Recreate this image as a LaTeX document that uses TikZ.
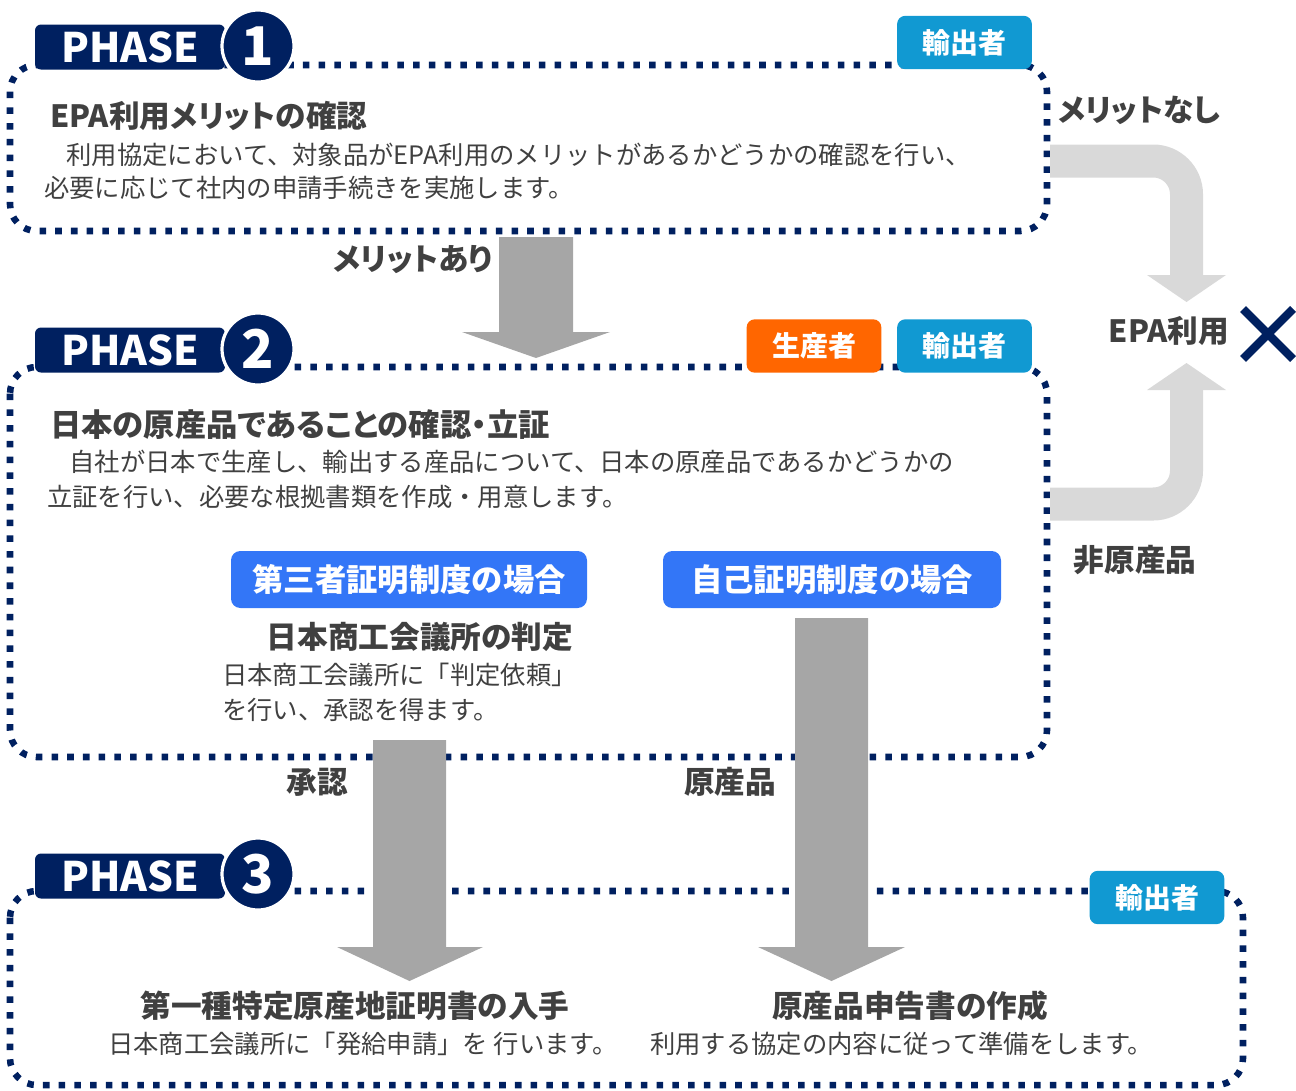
\documentclass[tikz,border=0pt]{standalone}
\usepackage{fontspec}
\setmainfont{Noto Sans CJK JP}
\newfontfamily\pfont{Noto Sans CJK JP}[RawFeature=+palt]
\definecolor{navy}{HTML}{002060}
\definecolor{tagblue}{HTML}{1199D2}
\definecolor{tagorange}{HTML}{FF6600}
\definecolor{btnblue}{HTML}{3376F7}
\definecolor{darkgray}{HTML}{A6A6A6}
\definecolor{lightgray}{HTML}{D9D9D9}
\definecolor{txt}{HTML}{404040}
\tikzset{
  dotbox/.style={draw=navy, line width=4.9pt, dash pattern=on 4.9pt off 6.9pt, rounded corners=20pt},
  phaselbl/.style={fill=navy, rounded corners=4.5pt, text=white, inner sep=0pt,
    minimum width=142.5pt, minimum height=33.75pt, font=\bfseries\fontsize{30.5}{30.5}\selectfont},
  phnum/.style={circle, fill=navy, draw=white, line width=2.4pt, inner sep=0pt,
    minimum size=54pt, text=white, font=\bfseries\fontsize{40}{40}\selectfont},
  tag/.style={rounded corners=6pt, text=white, inner sep=0pt, minimum width=101pt,
    minimum height=40pt, font=\pfont\bfseries\fontsize{21}{21}\selectfont},
  btn/.style={fill=btnblue, rounded corners=7pt, text=white, inner sep=0pt,
    minimum height=42.75pt, font=\bfseries\fontsize{23.5}{23.5}\selectfont},
  ttl/.style={text=txt, inner sep=0pt, font=\pfont\bfseries\fontsize{23}{23}\selectfont},
  body/.style={text=txt, inner sep=0pt, anchor=west, font=\fontsize{19}{19}\selectfont},
  lbl/.style={text=txt, inner sep=0pt, font=\pfont\bfseries\fontsize{23}{23}\selectfont},
  darkarrow/.style={fill=darkgray},
  lightband/.style={draw=lightgray, line width=24.75pt, rounded corners=25pt},
  lighthead/.style={fill=lightgray},
  xmark/.style={draw=navy, line width=6.2pt}
}
\begin{document}
\begin{tikzpicture}[x=0.75pt,y=-0.75pt]
\useasboundingbox (0,0) rectangle (1296,1090);

% ---------- dotted phase boxes ----------
\draw[dotbox] (10,65) rectangle (1047,231);
\draw[dotbox] (10,367) rectangle (1047,757);
\draw[dotbox] (10,891) rectangle (1243,1085);

% ---------- light gray side arrows ----------
\coordinate (b1s) at (1050,161);
\coordinate (b1c) at (1186.5,161);
\coordinate (b1e) at (1186.5,277);
\draw[lightband] (b1s) -- (b1c) -- (b1e);
\fill[lighthead] (1147,275) -- (1226,275) -- (1186.5,302) -- cycle;

\coordinate (b2s) at (1050,504);
\coordinate (b2c) at (1186.5,504);
\coordinate (b2e) at (1186.5,388);
\draw[lightband] (b2s) -- (b2c) -- (b2e);
\fill[lighthead] (1147,390) -- (1226,390) -- (1186.5,363) -- cycle;

% ---------- dark gray down arrows ----------
\fill[darkarrow] (499,237) -- (573,237) -- (573,332) -- (610,332) -- (536,358) -- (462,332) -- (499,332) -- cycle;
\fill[darkarrow] (373,740) -- (446,740) -- (446,947) -- (483,947) -- (409.5,981) -- (337,947) -- (373,947) -- cycle;
\fill[darkarrow] (795,618) -- (868,618) -- (868,947) -- (905,947) -- (831.5,981) -- (758,947) -- (795,947) -- cycle;

% ---------- phase headers ----------
\node[phaselbl] (p1lbl) at (130,47) {PHASE};
\node[phnum] (p1num) at (258,46) {1};
\node[tag, fill=tagblue] (p1tag) at (964.5,42.5) {輸出者};

\node[phaselbl] (p2lbl) at (130,350) {PHASE};
\node[phnum] (p2num) at (258,349) {2};
\node[tag, fill=tagorange] (p2tagA) at (814,346) {生産者};
\node[tag, fill=tagblue] (p2tagB) at (964.5,346) {輸出者};

\node[phaselbl] (p3lbl) at (130,876) {PHASE};
\node[phnum] (p3num) at (258,874) {3};
\node[tag, fill=tagblue] (p3tag) at (1157,897.5) {輸出者};

% ---------- phase 1 texts ----------
\node[ttl, anchor=west] (t1) at (50,116) {EPA利用メリットの確認};
\node[body] (t1a) at (41,155) {　利用協定において、対象品がEPA利用のメリットがあるかどうかの確認を行い、};
\node[body] (t1b) at (44,188) {必要に応じて社内の申請手続きを実施します。};

% ---------- phase 2 texts ----------
\node[ttl, anchor=west, font=\pfont\bfseries\fontsize{23.5}{23.5}\selectfont] (t2) at (50,425) {日本の原産品であることの確認・立証};
\node[body] (t2a) at (44,462) {　自社が日本で生産し、輸出する産品について、日本の原産品であるかどうかの};
\node[body] (t2b) at (47,497) {立証を行い、必要な根拠書類を作成・用意します。};

\node[btn, minimum width=267pt] (btn1) at (409,579.5) {第三者証明制度の場合};
\node[btn, minimum width=253.5pt] (btn2) at (832,579.5) {自己証明制度の場合};

\node[ttl] (t2c) at (420,637) {日本商工会議所の判定};
\node[body] (t2d) at (222,675) {日本商工会議所に「判定依頼」};
\node[body] (t2e) at (222,710) {を行い、承認を得ます。};

% ---------- phase 3 texts ----------
\node[ttl] (t3a) at (355,1006) {第一種特定原産地証明書の入手};
\node[ttl] (t3b) at (910,1006) {原産品申告書の作成};
\node[body] (t3c) at (108,1044) {日本商工会議所に「発給申請」を 行います。};
\node[body] (t3d) at (650,1044) {利用する協定の内容に従って準備をします。};

% ---------- arrow labels ----------
\node[lbl] (l1) at (1139,110) {メリットなし};
\node[lbl] (l2) at (413,260) {メリットあり};
\node[lbl] (l3) at (1169,331) {EPA利用};
\node[lbl] (l4) at (1135,560) {非原産品};
\node[lbl] (l5) at (317,782) {承認};
\node[lbl] (l6) at (730,782) {原産品};

% ---------- X mark ----------
\coordinate (xc) at (1268,334);
\draw[xmark] (1243,309) -- (1293,359);
\draw[xmark] (1243,359) -- (1293,309);
\end{tikzpicture}
\end{document}
